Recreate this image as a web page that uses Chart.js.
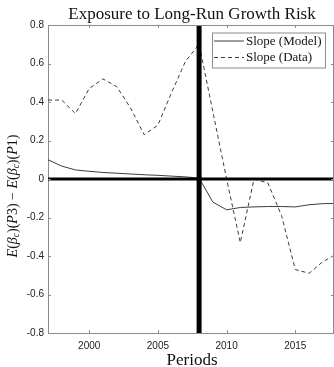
<!DOCTYPE html>
<html><head><meta charset="utf-8">
<script src="https://cdn.jsdelivr.net/npm/chart.js@4/dist/chart.umd.min.js"></script>
<style>html,body{margin:0;padding:0;background:#fff;overflow:hidden}#wrap{width:334px;height:367px}</style>
</head><body><div id="wrap"><canvas id="c" width="334" height="367"></canvas></div>
<script>
const years      = [1997,1998,1999,2000,2001,2002,2003,2004,2005,2006,2007,2008,2009,2010,2011,2012,2013,2014,2015,2016,2017,2018];
const slopeModel = [0.100,0.067,0.047,0.040,0.034,0.030,0.026,0.022,0.019,0.015,0.011,0.005,-0.120,-0.160,-0.148,-0.145,-0.143,-0.143,-0.145,-0.134,-0.128,-0.127];
const slopeData  = [0.41,0.41,0.34,0.47,0.52,0.48,0.37,0.23,0.28,0.45,0.61,0.70,0.35,0.00,-0.33,0.00,-0.02,-0.19,-0.47,-0.49,-0.43,-0.39];
const xTicks = [2000,2005,2010,2015];
const yTicks = [-0.8,-0.6,-0.4,-0.2,0,0.2,0.4,0.6,0.8];
const xRange = [1997,2017.82];
const yRange = [-0.8,0.8];
const crisisYear = 2008;
const seriesLabels = ['Slope (Model)','Slope (Data)'];
const titleText = 'Exposure to Long-Run Growth Risk';
const xTitleText = 'Periods';

const SERIF = '"Liberation Serif", "DejaVu Serif", serif';
const SANS = '"Liberation Sans", Arial, sans-serif';
const LINE = '#3c3c3c';
const AXIS = '#8c8c8c';

const decor = {
  id: 'decor',
  afterDraw(chart) {
    const ctx = chart.ctx, a = chart.chartArea;
    const xs = chart.scales.x, ys = chart.scales.y;
    ctx.save();
    // frame
    ctx.strokeStyle = AXIS; ctx.lineWidth = 1;
    ctx.beginPath();
    ctx.moveTo(a.left, a.top + 0.5); ctx.lineTo(a.right, a.top + 0.5);
    ctx.moveTo(a.right - 0.5, a.top); ctx.lineTo(a.right - 0.5, a.bottom);
    ctx.stroke();
    // inward ticks
    ctx.beginPath();
    xTicks.forEach(v => {
      const px = Math.round(xs.getPixelForValue(v)) + 0.5;
      ctx.moveTo(px, a.bottom); ctx.lineTo(px, a.bottom - 3);
      ctx.moveTo(px, a.top); ctx.lineTo(px, a.top + 3);
    });
    yTicks.forEach(v => {
      const py = Math.round(ys.getPixelForValue(v)) + 0.5;
      ctx.moveTo(a.left, py); ctx.lineTo(a.left + 3, py);
      ctx.moveTo(a.right, py); ctx.lineTo(a.right - 3, py);
    });
    ctx.stroke();
    // title
    ctx.fillStyle = '#111';
    ctx.textAlign = 'center'; ctx.textBaseline = 'alphabetic';
    ctx.font = '17px ' + SERIF;
    ctx.fillText(titleText, (a.left + a.right) / 2 + 1, 19);
    // x title
    ctx.font = '17px ' + SERIF;
    ctx.fillText(xTitleText, (a.left + a.right) / 2 + 1, 365);
    // y title (rotated, math italic)
    ctx.translate(13, 196);
    ctx.rotate(-Math.PI / 2);
    const big = 'italic 14px ' + SERIF, up = '14px ' + SERIF, small = 'italic 9.5px ' + SERIF;
    const parts = [
      [big,'E'],[up,'('],[big,'β'],[small,'c',3],[up,')'],[up,'('],[big,'P'],[up,'3'],[up,')'],
      [up,' − '],
      [big,'E'],[up,'('],[big,'β'],[small,'c',3],[up,')'],[up,'('],[big,'P'],[up,'1'],[up,')']
    ];
    let w = 0;
    parts.forEach(p => { ctx.font = p[0]; w += ctx.measureText(p[1]).width; });
    let x = -w / 2;
    ctx.textAlign = 'left'; ctx.textBaseline = 'middle';
    parts.forEach(p => {
      ctx.font = p[0];
      ctx.fillText(p[1], x, p[2] ? p[2] : 0);
      x += ctx.measureText(p[1]).width;
    });
    ctx.restore();
    // legend
    ctx.save();
    const lx = 212, ly = 32.5, lw = 113, lh = 35;
    ctx.fillStyle = '#fff';
    ctx.fillRect(lx, ly, lw, lh);
    ctx.strokeStyle = AXIS; ctx.lineWidth = 1;
    ctx.strokeRect(lx + 0.5, ly + 0.5, lw, lh);
    const rows = [ly + 8.5, ly + 25];
    ctx.strokeStyle = LINE; ctx.lineWidth = 1;
    ctx.beginPath(); ctx.setLineDash([]);
    ctx.moveTo(214, rows[0]); ctx.lineTo(244, rows[0]); ctx.stroke();
    ctx.beginPath(); ctx.setLineDash([4, 3]);
    ctx.moveTo(214, rows[1]); ctx.lineTo(244, rows[1]); ctx.stroke();
    ctx.setLineDash([]);
    ctx.fillStyle = '#111'; ctx.font = '13px ' + SERIF;
    ctx.textAlign = 'left'; ctx.textBaseline = 'middle';
    ctx.fillText(seriesLabels[0], 246, rows[0] + 0.5);
    ctx.fillText(seriesLabels[1], 246, rows[1] + 0.5);
    ctx.restore();
  }
};

new Chart(document.getElementById('c'), {
  type: 'line',
  data: {
    datasets: [
      { label: 'crisis', data: [{x: crisisYear, y: yRange[0]}, {x: crisisYear, y: yRange[1]}],
        borderColor: '#000', borderWidth: 5, pointRadius: 0 },
      { label: 'zero', data: [{x: xRange[0], y: 0}, {x: xRange[1], y: 0}],
        borderColor: '#000', borderWidth: 3, pointRadius: 0 },
      { label: seriesLabels[0], data: years.map((x, i) => ({x, y: slopeModel[i]})),
        borderColor: LINE, borderWidth: 1, pointRadius: 0, tension: 0 },
      { label: seriesLabels[1], data: years.map((x, i) => ({x, y: slopeData[i]})),
        borderColor: LINE, borderWidth: 1, borderDash: [4, 3], pointRadius: 0, tension: 0 }
    ]
  },
  options: {
    responsive: false, animation: false, devicePixelRatio: 1,
    layout: { padding: { top: 25, left: 0, right: 0, bottom: 0 } },
    plugins: { legend: { display: false }, title: { display: false }, tooltip: { enabled: false } },
    scales: {
      x: {
        type: 'linear', min: xRange[0], max: xRange[1],
        afterBuildTicks: s => { s.ticks = xTicks.map(v => ({value: v})); },
        afterFit: s => { s.height = 34; },
        grid: { display: false, drawTicks: false },
        border: { display: true, color: AXIS, width: 1 },
        ticks: { font: { family: SANS, size: 10 }, color: '#222', padding: 7, maxRotation: 0, autoSkip: false,
                 callback: v => String(v) }
      },
      y: {
        type: 'linear', min: yRange[0], max: yRange[1],
        afterBuildTicks: s => { s.ticks = yTicks.map(v => ({value: v})); },
        afterFit: s => { s.width = 48; },
        grid: { display: false, drawTicks: false },
        border: { display: true, color: AXIS, width: 1 },
        ticks: { font: { family: SANS, size: 10 }, color: '#222', padding: 4, autoSkip: false,
                 callback: v => (Math.abs(v) < 1e-9 ? '0' : (Math.round(v * 10) / 10).toString()) }
      }
    }
  },
  plugins: [decor]
});
</script>
</body></html>
